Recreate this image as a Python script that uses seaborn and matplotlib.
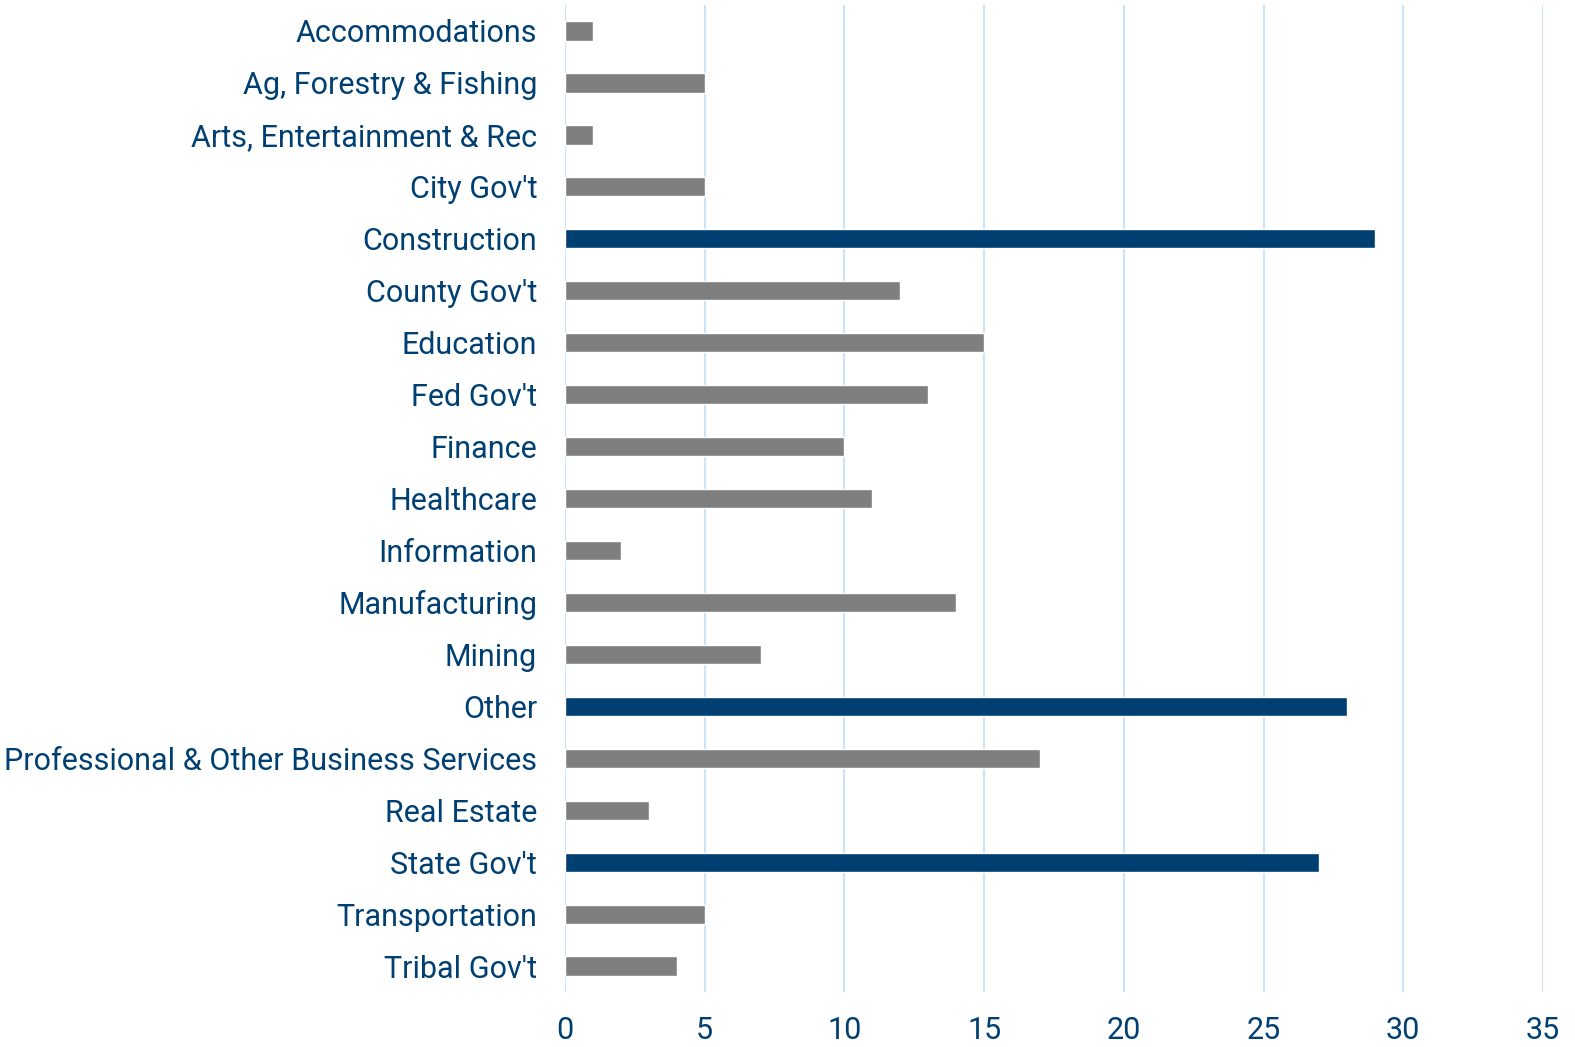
import matplotlib
matplotlib.use("Agg")
import matplotlib.pyplot as plt
import seaborn as sns
import pandas as pd

sns.set_style("white")
plt.rcParams['font.family'] = ['Roboto', 'DejaVu Sans']

industries = ["Accommodations", "Ag, Forestry & Fishing", "Arts, Entertainment & Rec",
              "City Gov't", "Construction", "County Gov't", "Education", "Fed Gov't",
              "Finance", "Healthcare", "Information", "Manufacturing", "Mining", "Other",
              "Professional & Other Business Services", "Real Estate", "State Gov't",
              "Transportation", "Tribal Gov't"]
counts = [1, 5, 1, 5, 29, 12, 15, 13, 10, 11, 2, 14, 7, 28, 17, 3, 27, 5, 4]
top3 = ["Construction", "Other", "State Gov't"]

df = pd.DataFrame({'industry': industries, 'count': counts})
df['group'] = ['top' if i in top3 else 'rest' for i in industries]

navy = '#003f72'
fig = plt.figure(figsize=(15.75, 10.47), dpi=100)
ax = fig.add_axes([0.3587, 0.0525, 0.621, 0.9427])
sns.barplot(data=df, y='industry', x='count', hue='group', dodge=False,
            palette={'top': navy, 'rest': '#7f7f7f'}, width=0.37, legend=False,
            saturation=1, ax=ax)

ax.set_xlim(0, 35)
ax.set_ylim(18.5, -0.5)
ax.set_xticks(range(0, 36, 5))
ax.grid(axis='x', color='#cce4f7', linewidth=1.5)
ax.set_axisbelow(True)
for s in ax.spines.values():
    s.set_visible(False)
ax.tick_params(axis='y', length=0, pad=20, labelsize=22, labelcolor=navy)
ax.tick_params(axis='x', length=0, pad=17, labelsize=22, labelcolor=navy)
ax.set_xlabel('')
ax.set_ylabel('')

fig.savefig('out.png', dpi=100)
